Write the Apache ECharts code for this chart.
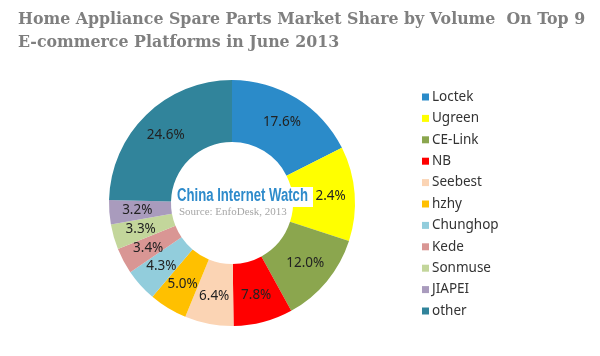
<!DOCTYPE html>
<html><head><meta charset="utf-8">
<script src="https://cdn.jsdelivr.net/npm/echarts@6/dist/echarts.min.js"></script>
<style>html,body{margin:0;padding:0;background:#fff}#c{width:600px;height:356px}</style>
</head><body><div id="c"></div>
<script>
const titleLines = ['Home Appliance Spare Parts Market Share by Volume  On Top 9', 'E-commerce Platforms in June 2013'];
const categories = ['Loctek','Ugreen','CE-Link','NB','Seebest','hzhy','Chunghop','Kede','Sonmuse','JIAPEI','other'];
const values = [17.6, 12.4, 12.0, 7.8, 6.4, 5.0, 4.3, 3.4, 3.3, 3.2, 24.6];
const colors = ['#2B8BC9','#FFFF00','#8BA64E','#FF0000','#FBD4B4','#FFC000','#92CDDC','#D99694','#C3D69B','#A99BBD','#31849B'];
const watermark = 'China Internet Watch';
const sourceText = 'Source: EnfoDesk, 2013';

const chart = echarts.init(document.getElementById('c'), null, {renderer:'canvas'});
chart.setOption({
  animation: false,
  backgroundColor: '#fff',
  title: {
    text: titleLines.join('\n'), left: 13, top: 3,
    textStyle: {fontFamily: 'DejaVu Serif', fontWeight: 'bold', fontSize: 15.8, color: '#7F7F7F', lineHeight: 23}
  },
  legend: {
    orient: 'vertical', left: 417, top: 85,
    icon: 'rect', itemWidth: 7, itemHeight: 7, itemGap: 7.4,
    textStyle: {fontFamily: 'Noto Sans', fontSize: 13.5, color: '#333', lineHeight: 14, padding: [0,0,0,-2]},
    data: categories
  },
  series: [{
    type: 'pie',
    center: [232, 203],
    radius: [61, 123],
    startAngle: 90,
    clockwise: true,
    label: {
      show: true, position: 'inside',
      formatter: p => p.value.toFixed(1) + '%',
      fontFamily: 'Noto Sans', fontSize: 13.5, color: '#222'
    },
    labelLine: {show: false},
    emphasis: {disabled: true},
    itemStyle: {borderWidth: 0},
    data: categories.map((c, i) => ({name: c, value: values[i], itemStyle: {color: colors[i]}}))
  }],
  graphic: [
    {type: 'rect', z: 100, shape: {x: 176, y: 187, width: 137, height: 20}, style: {fill: '#fff'}},
    {type: 'text', z: 101, x: 177, y: 187, scaleX: 0.73,
     style: {text: watermark, font: 'bold 18px "Liberation Sans"', fill: '#2E8BCB'}},
    {type: 'text', z: 101, x: 179, y: 207,
     style: {text: sourceText, font: '11px "Liberation Serif"', fill: '#A6A6A6'}}
  ]
});
</script></body></html>
